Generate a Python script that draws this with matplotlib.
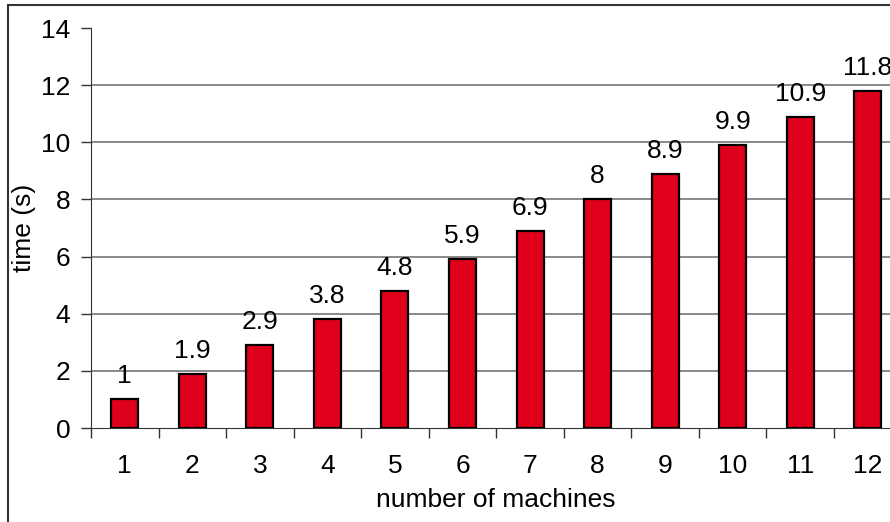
import matplotlib.pyplot as plt
from matplotlib.patches import Rectangle

machines = [1, 2, 3, 4, 5, 6, 7, 8, 9, 10, 11, 12]
times = [1, 1.9, 2.9, 3.8, 4.8, 5.9, 6.9, 8, 8.9, 9.9, 10.9, 11.8]
labels = ['1', '1.9', '2.9', '3.8', '4.8', '5.9', '6.9', '8', '8.9', '9.9', '10.9', '11.8']

plt.rcParams['font.family'] = ['Liberation Sans', 'DejaVu Sans']
FS = 19

W, H = 890, 522
fig = plt.figure(figsize=(W / 100, H / 100), dpi=100)

# marco exterior (se corta a la derecha y abajo)
fig.patches.append(Rectangle((8 / W, -0.1), 1.2, 1 - 5 / H + 0.1, transform=fig.transFigure,
                             fill=False, edgecolor='#333333', linewidth=1.5))

# el area de dibujo se sale un poco por la derecha
left = 91 / W
right = 901.5 / W
bottom = 1 - 428 / H
top = 1 - 28 / H
ax = fig.add_axes([left, bottom, right - left, top - bottom])

x = list(range(len(machines)))
ax.bar(x, times, width=0.4, color='#E0001B', edgecolor='black', linewidth=1.6, zorder=3)
for xi, v, lab in zip(x, times, labels):
    ax.text(xi, v + 0.56, lab, ha='center', va='baseline', fontsize=FS)

ax.set_xlim(-0.5, len(machines) - 0.5)
ax.set_ylim(0, 14)
ax.set_yticks(range(0, 15, 2))
ax.set_yticklabels([str(v) for v in range(0, 15, 2)], fontsize=FS)
for v in range(2, 13, 2):
    ax.axhline(v, color='#808080', linewidth=1.3, zorder=1)

ax.set_xticks([i - 0.5 for i in range(len(machines) + 1)])
ax.set_xticklabels([])
ax.set_xticks(x, minor=True)
ax.set_xticklabels([str(m) for m in machines], minor=True, fontsize=FS)
ax.tick_params(axis='x', which='minor', length=0, pad=19)
ax.tick_params(axis='x', which='major', length=7, width=1, color='#333333', direction='out')
ax.tick_params(axis='y', length=7, width=1, color='#333333', direction='out', pad=8)

for s in ['top', 'right']:
    ax.spines[s].set_visible(False)
ax.spines['left'].set_color('#333333')
ax.spines['bottom'].set_color('#333333')

# titulos de ejes colocados en pixeles de la figura
fig.text(496 / W, 1 - 500 / H, 'number of machines', ha='center', va='center', fontsize=FS)
fig.text(24 / W, 1 - 228 / H, 'time (s)', ha='center', va='center', rotation=90, fontsize=FS)

fig.savefig('out.png', dpi=100)
